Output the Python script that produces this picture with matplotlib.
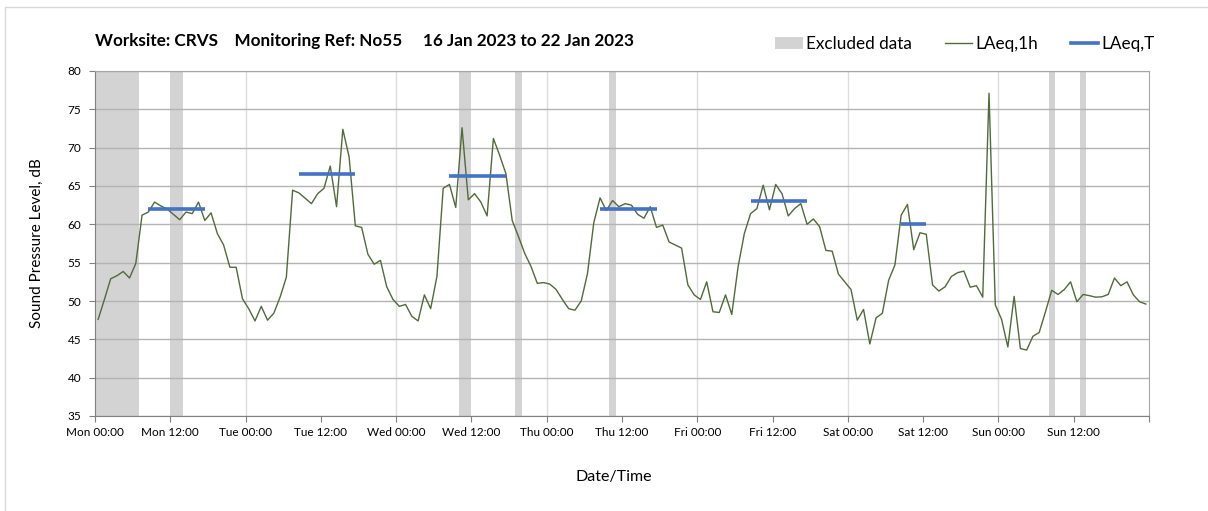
import matplotlib
matplotlib.use("Agg")
import matplotlib.pyplot as plt
from matplotlib.patches import Patch
from matplotlib.lines import Line2D

# ======================
# |        DATA        |
# ======================
# Hourly LAeq,1h values (dB), one list per day, point i plotted at hour i + 0.5
mon = [47.6, 50.2, 52.9, 53.3, 53.85, 53.0, 54.9, 61.2, 61.6, 62.9, 62.4, 62.0,
       61.3, 60.6, 61.6, 61.4, 62.9, 60.5, 61.5, 58.8, 57.3, 54.4, 54.4, 50.3]
tue = [49.0, 47.4, 49.3, 47.5, 48.4, 50.5, 53.1, 64.45, 64.1, 63.4, 62.7, 64.0,
       64.7, 67.6, 62.3, 72.4, 68.8, 59.8, 59.6, 56.1, 54.8, 55.3, 51.85, 50.2]
wed = [49.3, 49.55, 48.0, 47.4, 50.8, 49.0, 53.2, 64.7, 65.2, 62.2, 72.6, 63.2,
       64.0, 62.9, 61.1, 71.2, 69.0, 66.6, 60.5, 58.4, 56.2, 54.5, 52.3, 52.4]
thu = [52.2, 51.5, 50.2, 49.0, 48.8, 50.0, 53.6, 60.2, 63.45, 61.8, 63.1, 62.3,
       62.7, 62.5, 61.3, 60.8, 62.3, 59.6, 59.9, 57.7, 57.3, 56.9, 52.1, 50.8]
fri = [50.2, 52.5, 48.6, 48.5, 50.8, 48.25, 54.45, 58.8, 61.4, 62.05, 65.1, 61.9,
       65.2, 64.0, 61.1, 62.05, 62.7, 60.0, 60.7, 59.7, 56.6, 56.5, 53.5, 52.5]
sat = [51.5, 47.5, 48.9, 44.4, 47.8, 48.4, 52.7, 54.7, 61.2, 62.6, 56.7, 58.9,
       58.7, 52.1, 51.3, 51.85, 53.2, 53.7, 53.9, 51.8, 52.0, 50.5, 77.1, 49.5]
sun = [47.6, 44.0, 50.6, 43.8, 43.6, 45.4, 45.9, 48.6, 51.4, 50.85, 51.5, 52.5,
       49.9, 50.85, 50.7, 50.5, 50.55, 50.85, 53.0, 52.0, 52.5, 50.8, 49.9, 49.6]

# LAeq,T per day (daytime period, first and last hourly point covered)
laeq_t_day = [0, 1, 2, 3, 4, 5]
laeq_t_first = [8, 8, 8, 8, 8, 8]
laeq_t_last = [17, 17, 17, 17, 17, 12]
laeq_t_vals = [62.0, 66.6, 66.35, 62.05, 63.0, 60.1]

# Excluded periods, hours from Mon 00:00
excl_start = [0, 12, 58, 67, 82, 152, 157]
excl_end = [7, 14, 60, 68, 83, 153, 158]

tick_labels = ["Mon 00:00", "Mon 12:00", "Tue 00:00", "Tue 12:00", "Wed 00:00",
               "Wed 12:00", "Thu 00:00", "Thu 12:00", "Fri 00:00", "Fri 12:00",
               "Sat 00:00", "Sat 12:00", "Sun 00:00", "Sun 12:00", ""]

title = "Worksite: CRVS    Monitoring Ref: No55     16 Jan 2023 to 22 Jan 2023"

# ======================
# |      PLOTTING      |
# ======================
plt.rcParams['font.family'] = ['Lato', 'DejaVu Sans']

laeq_1h = mon + tue + wed + thu + fri + sat + sun
hours = [i + 0.5 for i in range(len(laeq_1h))]

fig = plt.figure(figsize=(12.08, 5.11), dpi=100)
ax = fig.add_axes([95 / 1208, 1 - 416 / 511, (1149 - 95) / 1208, (416 - 71) / 511])

# Grey excluded bands
for s, e in zip(excl_start, excl_end):
    ax.axvspan(s, e, color="#d3d3d3", lw=0, zorder=0.2)

# Day separators
for d in range(1, 7):
    ax.axvline(d * 24, color="#dcdcdc", lw=1, zorder=0.3)

ax.plot(hours, laeq_1h, color="#4f6b3a", lw=1, zorder=3)

for d, a, b, v in zip(laeq_t_day, laeq_t_first, laeq_t_last, laeq_t_vals):
    ax.plot([d * 24 + a + 0.5, d * 24 + b + 0.5], [v, v], color="#4472c4",
            lw=2.6, solid_capstyle="butt", zorder=4)

ax.set_xlim(0, 168)
ax.set_ylim(35, 80)
ax.set_xticks(range(0, 169, 12))
ax.set_xticklabels(tick_labels, fontsize=8.5)
ax.set_yticks(range(35, 81, 5))
ax.tick_params(axis="y", labelsize=8.5, length=4, color="#808080", pad=6)
ax.tick_params(axis="x", length=4, color="#808080", pad=4)
ax.yaxis.grid(True, color="#b4b4b4", lw=1)
ax.set_axisbelow(True)

for side in ["left", "bottom"]:
    ax.spines[side].set_color("#808080")
for side in ["top", "right"]:
    ax.spines[side].set_color("#a6a6a6")

ax.set_ylabel("Sound Pressure Level, dB", fontsize=11, labelpad=17)
fig.text(614 / 1208, 1 - 477 / 511, "Date/Time", fontsize=11.5, ha="center", va="center")

fig.text(95 / 1208, 1 - 41 / 511, title, fontsize=12.3, fontweight="bold",
         ha="left", va="center")

handles = [Patch(facecolor="#d3d3d3", edgecolor="none"),
           Line2D([], [], color="#4f6b3a", lw=1),
           Line2D([], [], color="#4472c4", lw=2.6)]
fig.legend(handles, ["Excluded data", "LAeq,1h", "LAeq,T"], ncol=3, frameon=False,
           loc="center", bbox_to_anchor=(965 / 1208, 1 - 44 / 511), fontsize=12.3,
           handlelength=1.6, handletextpad=0.2, columnspacing=1.9)

# Outer chart border (top and left edges visible)
fig.add_artist(Line2D([5 / 1208, 5 / 1208, 1], [0, 1 - 7 / 511, 1 - 7 / 511],
                      transform=fig.transFigure, color="#d9d9d9", lw=1))

fig.savefig("out.png", dpi=100)
